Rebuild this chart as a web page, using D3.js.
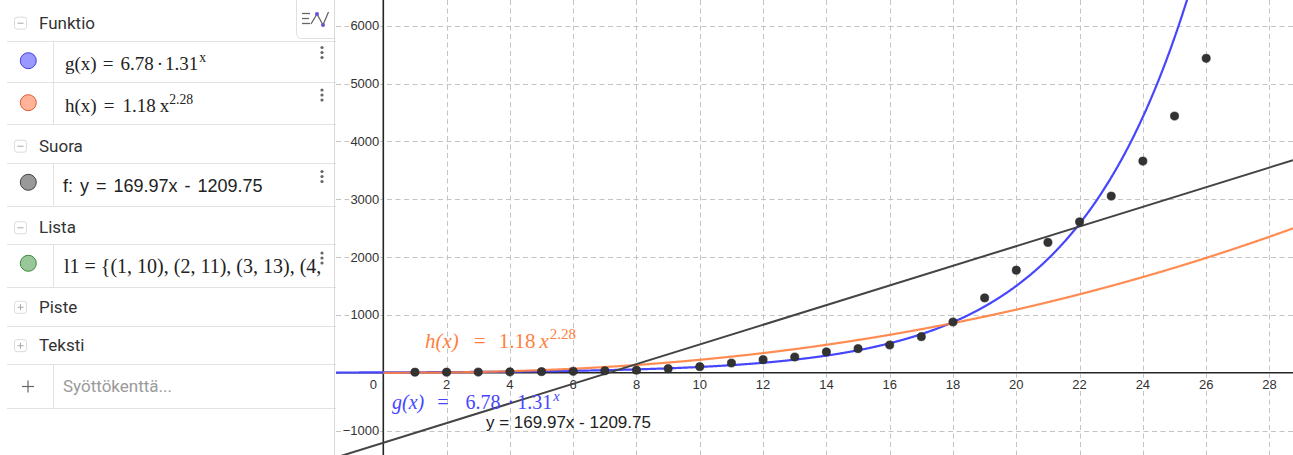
<!DOCTYPE html>
<html>
<head>
<meta charset="utf-8">
<script src="https://cdn.jsdelivr.net/npm/d3@7"></script>
<style>
  html, body { margin: 0; padding: 0; background: #fff; overflow: hidden; }
  svg { display: block; }
</style>
</head>
<body>
<svg id="chart" width="1293" height="455"></svg>
<script>
// ---- data -------------------------------------------------------------
const pointX = [1, 2, 3, 4, 5, 6, 7, 8, 9, 10, 11, 12, 13, 14, 15, 16, 17, 18, 19, 20, 21, 22, 23, 24, 25, 26];
const pointY = [10, 11, 13, 16, 20, 26, 35, 46, 71, 105, 169, 226, 273, 360, 417, 480, 624, 878, 1294, 1773, 2253, 2609, 3054, 3659, 4438, 5436];

const xTickValues = [2, 4, 6, 8, 10, 12, 14, 16, 18, 20, 22, 24, 26, 28];
const yTickValues = [-1000, 1000, 2000, 3000, 4000, 5000, 6000];

// fitted models
const gCoef = 6.78, gBase = 1.31;      // g(x) = 6.78 · 1.31^x
const hCoef = 1.18, hPow = 2.28;       // h(x) = 1.18 x^2.28
const fSlope = 169.97, fIntercept = -1209.75; // f: y = 169.97x - 1209.75

// visible window of the graphics view
const xDomain = [-1.4945, 28.743];
const yDomain = [6444, -1421];

// ---- layout -----------------------------------------------------------
const W = 1293, H = 455;
const panelW = 336;
const svg = d3.select("#chart");

const colG = "#4646ff", colH = "#ff7f3f", colF = "#444444", colPt = "#333333";

const x = d3.scaleLinear().domain(xDomain).range([panelW, W]);
const y = d3.scaleLinear().domain(yDomain).range([0, H]);

svg.append("defs").append("clipPath").attr("id", "plotClip")
  .append("rect").attr("x", panelW).attr("y", 0).attr("width", W - panelW).attr("height", H);

// ---- graphics view ----------------------------------------------------
const plot = svg.append("g").attr("clip-path", "url(#plotClip)");
plot.append("rect").attr("x", panelW).attr("y", 0).attr("width", W - panelW).attr("height", H).attr("fill", "#fff");

// dashed grid
const grid = plot.append("g").attr("stroke", "#c4c4c4").attr("stroke-width", 1).attr("stroke-dasharray", "5,3.5");
grid.selectAll("line.v").data(xTickValues).join("line").attr("class", "v")
  .attr("x1", d => Math.round(x(d)) + 0.5).attr("x2", d => Math.round(x(d)) + 0.5)
  .attr("y1", 0).attr("y2", H);
grid.selectAll("line.h").data(yTickValues).join("line").attr("class", "h")
  .attr("y1", d => Math.round(y(d)) + 0.5).attr("y2", d => Math.round(y(d)) + 0.5)
  .attr("x1", panelW).attr("x2", W);

// axes
const axes = plot.append("g").attr("stroke", "#252525").attr("stroke-width", 1.6);
axes.append("line").attr("x1", panelW).attr("x2", W).attr("y1", y(0)).attr("y2", y(0));
axes.append("line").attr("x1", x(0)).attr("x2", x(0)).attr("y1", 0).attr("y2", H);

// tick labels with white backing
const tickFont = "'Liberation Sans', Arial, sans-serif";
function backedLabel(parent, tx, ty, text, anchor) {
  const g = parent.append("g");
  const t = g.append("text").attr("x", tx).attr("y", ty).attr("text-anchor", anchor)
    .attr("font-family", tickFont).attr("font-size", 13).attr("fill", "#333").text(text);
  const b = t.node().getBBox();
  g.insert("rect", "text").attr("x", b.x - 1).attr("y", b.y + 1).attr("width", b.width + 2).attr("height", b.height - 2).attr("fill", "#fff");
}
const labels = plot.append("g");
xTickValues.forEach(v => backedLabel(labels, x(v), y(0) + 16, String(v), "middle"));
yTickValues.forEach(v => backedLabel(labels, x(0) - 4, y(v) + 4.5, v < 0 ? "\u2212" + Math.abs(v) : String(v), "end"));
backedLabel(labels, x(0) - 10, y(0) + 16, "0", "middle");

// curves
const gFn = t => gCoef * Math.pow(gBase, t);
const hFn = t => hCoef * Math.pow(t, hPow);
const fFn = t => fSlope * t + fIntercept;

const line = d3.line().x(d => x(d[0])).y(d => y(d[1]));
const gSamples = d3.range(xDomain[0], xDomain[1], 0.02).map(t => [t, gFn(t)]).filter(d => d[1] < 9000);
const hSamples = d3.range(0, xDomain[1], 0.02).map(t => [t, hFn(t)]);
const fSamples = [xDomain[0], xDomain[1]].map(t => [t, fFn(t)]);

plot.append("path").datum(gSamples).attr("d", line).attr("fill", "none").attr("stroke", colG).attr("stroke-width", 2.2);
plot.append("path").datum(hSamples).attr("d", line).attr("fill", "none").attr("stroke", colH).attr("stroke-width", 2.2).attr("stroke-opacity", 0.9);
plot.append("path").datum(fSamples).attr("d", line).attr("fill", "none").attr("stroke", colF).attr("stroke-width", 2);

// data points of l1
plot.append("g").selectAll("circle").data(pointX.map((px, i) => [px, pointY[i]])).join("circle")
  .attr("cx", d => x(d[0])).attr("cy", d => y(d[1])).attr("r", 4.1)
  .attr("fill", colPt).attr("stroke", "#222").attr("stroke-width", 0.6);

// formula labels in the view
const mathFont = "'Liberation Serif', 'Times New Roman', serif";
function formula(parent, ax, ay, pieces, size, color, family) {
  const t = parent.append("text").attr("x", ax).attr("y", ay).attr("font-family", family)
    .attr("font-size", size).attr("fill", color);
  pieces.forEach(p => {
    const s = t.append("tspan").text(p.t).attr("dx", p.dx || 0);
    if (p.it) s.attr("font-style", "italic");
    if (p.sup) s.attr("font-size", size * 0.72).attr("dy", -size * 0.42);
  });
  return t;
}
const viewLabels = plot.append("g");
formula(viewLabels, x(1.318), y(434), [
  { t: "h(x)", it: true }, { t: "=", dx: 15 }, { t: "1.18", dx: 13 }, { t: "x", it: true, dx: 4 }, { t: "2.28", sup: true, dx: 1 }
], 21, colH, mathFont);
formula(viewLabels, x(0.275), y(-630), [
  { t: "g(x)", it: true }, { t: "=", dx: 13 }, { t: "6.78", dx: 17 }, { t: "\u00b7", dx: 7 }, { t: "1.31", dx: 3 }, { t: "x", it: true, sup: true, dx: 1 }
], 20, colG, mathFont);
viewLabels.append("text").attr("x", x(3.245)).attr("y", y(-959))
  .attr("font-family", tickFont).attr("font-size", 17).attr("fill", "#222")
  .text("y = " + fSlope + "x - " + Math.abs(fIntercept));

// ---- algebra panel ----------------------------------------------------
const panel = svg.append("g");
panel.append("rect").attr("x", 0).attr("y", 0).attr("width", panelW).attr("height", H).attr("fill", "#fff");
const pc = panel.append("g");

const uiFont = "Roboto, 'Open Sans', sans-serif";
const divColor = "#e2e2e2";
const dividers = [40.7, 82.3, 124.3, 163.3, 205.5, 244.3, 287.3, 326, 364, 408.3];
pc.selectAll("line.div").data(dividers).join("line").attr("class", "div")
  .attr("x1", 7).attr("x2", panelW).attr("y1", d => Math.round(d) + 0.5).attr("y2", d => Math.round(d) + 0.5)
  .attr("stroke", divColor).attr("stroke-width", 1);

// group headers
const headers = [
  { name: "Funktio", cy: 22.7, open: true },
  { name: "Suora", cy: 145.7, open: true },
  { name: "Lista", cy: 227.3, open: true },
  { name: "Piste", cy: 306.8, open: false },
  { name: "Teksti", cy: 345.2, open: false }
];
headers.forEach(h => {
  pc.append("rect").attr("x", 14.5).attr("y", h.cy - 5.5).attr("width", 12).attr("height", 12).attr("rx", 2.5)
    .attr("fill", "#fff").attr("stroke", "#dcdcdc");
  pc.append("line").attr("x1", 17.5).attr("x2", 23.5).attr("y1", h.cy + 0.5).attr("y2", h.cy + 0.5).attr("stroke", "#a8a8a8");
  if (!h.open) pc.append("line").attr("x1", 20.5).attr("x2", 20.5).attr("y1", h.cy - 2.5).attr("y2", h.cy + 3.5).attr("stroke", "#a8a8a8");
  pc.append("text").attr("x", 39).attr("y", h.cy + 6).attr("font-family", uiFont).attr("font-size", 17)
    .attr("fill", "#333").text(h.name);
});

// item rows
const rows = [
  { top: 40.7, bottom: 82.3, cy: 60.7, fill: "#9999ff", stroke: "#4040e0" },
  { top: 82.3, bottom: 124.3, cy: 102.7, fill: "#ffb499", stroke: "#e05a30" },
  { top: 163.3, bottom: 205.5, cy: 182.3, fill: "#999999", stroke: "#404040" },
  { top: 244.3, bottom: 287.3, cy: 263.3, fill: "#99c799", stroke: "#3a8a3a" }
];
rows.forEach(r => {
  pc.append("line").attr("x1", 53.5).attr("x2", 53.5).attr("y1", r.top).attr("y2", r.bottom).attr("stroke", divColor);
  pc.append("circle").attr("cx", 28.3).attr("cy", r.cy).attr("r", 8).attr("fill", r.fill).attr("stroke", r.stroke).attr("stroke-width", 1);
});
pc.append("line").attr("x1", 53.5).attr("x2", 53.5).attr("y1", 364).attr("y2", 408.3).attr("stroke", divColor);

const rowMath = "'Liberation Serif', 'Times New Roman', serif";
formula(pc, 65, 70, [
  { t: "g(x)" }, { t: "=", dx: 6 }, { t: "6.78", dx: 7 }, { t: "\u00b7", dx: 3 }, { t: "1.31", dx: 2 }, { t: "x", sup: true, dx: 1 }
], 19, "#222", rowMath);
formula(pc, 65, 112, [
  { t: "h(x)" }, { t: "=", dx: 7 }, { t: "1.18", dx: 8 }, { t: "x", dx: 4 }, { t: "2.28", sup: true, dx: 0 }
], 19, "#222", rowMath);
pc.append("text").attr("x", 63).attr("y", 192).attr("font-family", "'Liberation Sans', Arial, sans-serif")
  .attr("font-size", 18).attr("word-spacing", 2).attr("fill", "#222")
  .text("f: y = " + fSlope + "x - " + Math.abs(fIntercept));

// list row: as much of the point list as fits in the panel
const listText = "l1 = {" + pointX.map((px, i) => "(" + px + ", " + pointY[i] + ")").join(", ") + "}";
const listNode = pc.append("text").attr("x", 64).attr("y", 273).attr("font-family", rowMath)
  .attr("font-size", 20).attr("fill", "#222").text(listText);
let shown = listText;
while (shown.length > 1 && listNode.node().getComputedTextLength() > panelW - 64 - 2) {
  shown = shown.slice(0, -1);
  listNode.text(shown);
}

// input row
pc.append("line").attr("x1", 22).attr("x2", 34).attr("y1", 386.5).attr("y2", 386.5).attr("stroke", "#666").attr("stroke-width", 1.2);
pc.append("line").attr("x1", 28).attr("x2", 28).attr("y1", 380.5).attr("y2", 392.5).attr("stroke", "#666").attr("stroke-width", 1.2);
pc.append("text").attr("x", 63).attr("y", 392).attr("font-family", uiFont).attr("font-size", 17)
  .attr("fill", "#9a9a9a").text("Syöttökenttä...");

// three-dot menus
[52.5, 95, 176.5, 258].forEach(cy => {
  [-5, 0, 5].forEach(o => pc.append("circle").attr("cx", 322).attr("cy", cy + o).attr("r", 1.6).attr("fill", "#666"));
});

// view-switch button
const btn = panel.append("g");
btn.append("path").attr("d", "M296.5,-1 V33 Q296.5,38.5 302,38.5 H334").attr("fill", "#fff").attr("stroke", "#e0e0e0");
[[302, 310, 13.5], [302, 309, 18.5], [302, 310, 23.5]].forEach(l =>
  btn.append("line").attr("x1", l[0]).attr("x2", l[1]).attr("y1", l[2]).attr("y2", l[2]).attr("stroke", "#666").attr("stroke-width", 1.3));
btn.append("path").attr("d", "M311,24 L317,14 L323,25 L328.5,12").attr("fill", "none").attr("stroke", "#666").attr("stroke-width", 1.3);
btn.append("circle").attr("cx", 317).attr("cy", 14).attr("r", 2).attr("fill", "#6557d2");
btn.append("circle").attr("cx", 323).attr("cy", 25).attr("r", 2).attr("fill", "#6557d2");

// panel border
panel.append("line").attr("x1", panelW - 1.5).attr("x2", panelW - 1.5).attr("y1", 0).attr("y2", H).attr("stroke", "#dadada");
</script>
</body>
</html>
